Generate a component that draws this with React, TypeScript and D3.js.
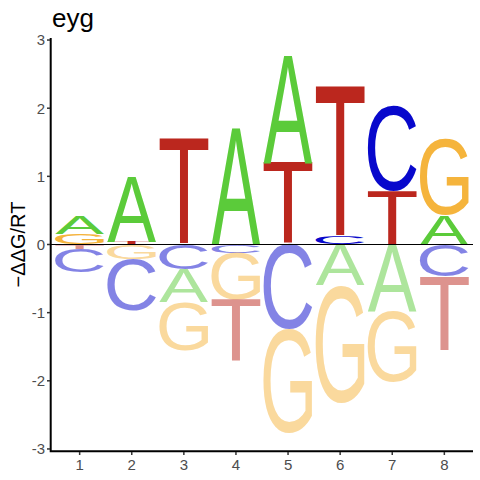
import React from 'react';
import * as d3 from 'd3';

const positions = [1, 2, 3, 4, 5, 6, 7, 8];
const letters = ['A', 'C', 'G', 'T'];
const valA = [0.26, 0.95, -0.48, 1.71, 1.57, -0.60, -0.97, 0.43];
const valC = [-0.35, -0.75, -0.37, -0.12, -1.25, 0.11, 1.25, -0.47];
const valG = [0.15, -0.22, -0.71, -0.69, -1.52, -1.72, -1.05, 1.12];
const valT = [-0.06, 0.03, 1.57, -0.91, 1.20, 2.22, 0.78, -1.09];
const yTicks = [-3, -2, -1, 0, 1, 2, 3];
const colors: Record<string, string> = { A: '#5BCB3A', C: '#0808CC', G: '#F5B43C', T: '#BB271E' };
const title = 'eyg';
const yLabel = '\u2212\u0394\u0394G/RT';

const FONT = 'Liberation Sans';

function measureLetters() {
  const out: Record<string, { l: number; r: number; a: number; d: number }> = {};
  const canvas = document.createElement('canvas');
  const ctx = canvas.getContext('2d')!;
  ctx.font = `100px "${FONT}"`;
  for (const L of letters) {
    const m = ctx.measureText(L);
    out[L] = {
      l: m.actualBoundingBoxLeft,
      r: m.actualBoundingBoxRight,
      a: m.actualBoundingBoxAscent,
      d: m.actualBoundingBoxDescent,
    };
  }
  return out;
}

export default function App() {
  const metrics = React.useMemo(() => measureLetters(), []);
  const x = d3.scaleLinear().domain([0.45, 8.55]).range([51, 473]);
  const y = d3.scaleLinear().domain([-3.03, 3.03]).range([451, 38]);
  const band = x(2) - x(1);
  const lw = band * 0.94;
  const series: Record<string, number[]> = { A: valA, C: valC, G: valG, T: valT };

  function drawLetter(L: string, x0: number, y0: number, w: number, h: number, op: number, key: string) {
    const m = metrics[L];
    const iw = m.l + m.r;
    const ih = m.a + m.d;
    return (
      <text
        key={key}
        transform={`translate(${x0},${y0}) scale(${w / iw},${h / ih}) translate(${m.l},${m.a})`}
        fontFamily={FONT}
        fontSize={100}
        fill={colors[L]}
        fillOpacity={op}
      >
        {L}
      </text>
    );
  }

  const glyphs: React.ReactNode[] = [];
  positions.forEach((p, i) => {
    const vals = letters.map((L) => ({ L, v: series[L][i] }));
    const pos = vals.filter((d) => d.v > 0).sort((a, b) => a.v - b.v);
    const neg = vals.filter((d) => d.v < 0).sort((a, b) => b.v - a.v);
    const x0 = x(p) - lw / 2;
    let acc = 0;
    pos.forEach((d) => {
      const top = y(acc + d.v);
      const bot = y(acc);
      acc += d.v;
      glyphs.push(drawLetter(d.L, x0, top, lw, bot - top, 1, `p${i}${d.L}`));
    });
    acc = 0;
    neg.forEach((d) => {
      const top = y(acc);
      const bot = y(acc + d.v);
      acc += d.v;
      glyphs.push(drawLetter(d.L, x0, top, lw, bot - top, 0.5, `n${i}${d.L}`));
    });
  });

  return (
    <svg
      width={480}
      height={480}
      style={{ position: 'absolute', left: 0, top: 0, background: '#fff' }}
    >
      <rect width={480} height={480} fill="#fff" />
      {glyphs}
      <line x1={51} x2={473} y1={y(0)} y2={y(0)} stroke="#000" strokeWidth={1} />
      <path d={`M50.7,38 V451.3 H473`} fill="none" stroke="#000" strokeWidth={2} />
      {yTicks.map((t) => (
        <g key={`yt${t}`}>
          <line x1={47} x2={50} y1={y(t)} y2={y(t)} stroke="#333" strokeWidth={1.5} />
          <text
            x={45}
            y={y(t)}
            dy="0.36em"
            textAnchor="end"
            fontFamily={FONT}
            fontSize={15}
            fill="#4D4D4D"
          >
            {t < 0 ? `-${Math.abs(t)}` : `${t}`}
          </text>
        </g>
      ))}
      {positions.map((p) => (
        <g key={`xt${p}`}>
          <line x1={x(p)} x2={x(p)} y1={452} y2={455} stroke="#333" strokeWidth={1.5} />
          <text
            x={x(p)}
            y={470}
            textAnchor="middle"
            fontFamily={FONT}
            fontSize={15}
            fill="#4D4D4D"
          >
            {p}
          </text>
        </g>
      ))}
      <text x={52} y={27} fontFamily={FONT} fontSize={26} fill="#000">
        {title}
      </text>
      <text
        transform={`translate(25,${y(0)}) rotate(-90)`}
        textAnchor="middle"
        fontFamily={FONT}
        fontSize={20}
        fill="#000"
      >
        {yLabel}
      </text>
    </svg>
  );
}
